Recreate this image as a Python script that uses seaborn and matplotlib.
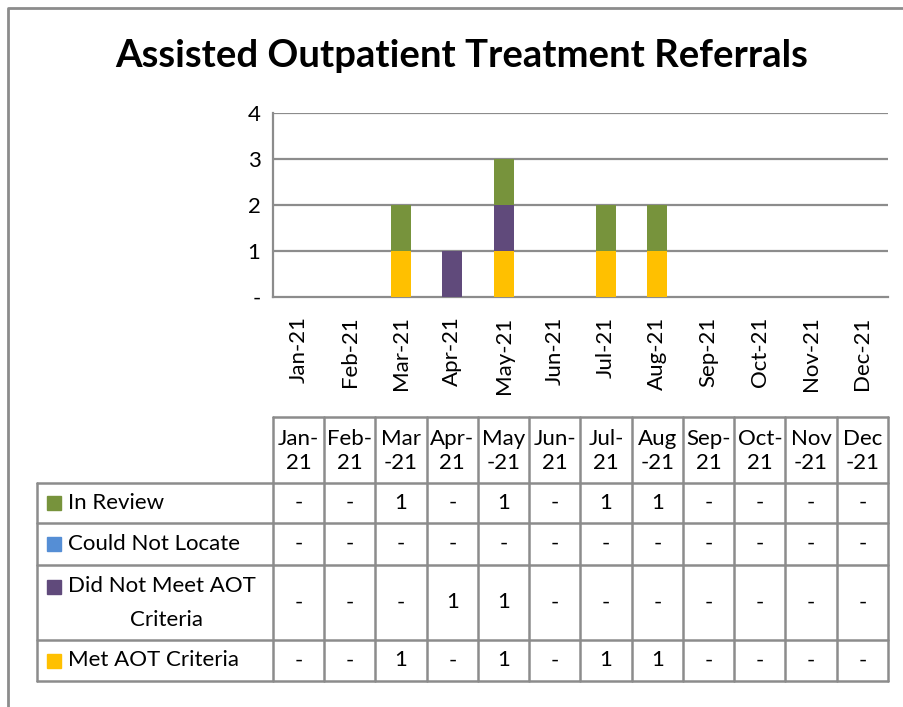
import matplotlib
matplotlib.use("Agg")
import matplotlib.pyplot as plt
import seaborn as sns
import pandas as pd
import numpy as np
from matplotlib.lines import Line2D
from matplotlib.patches import Rectangle

# ---- data ----
months = ["Jan-21", "Feb-21", "Mar-21", "Apr-21", "May-21", "Jun-21",
          "Jul-21", "Aug-21", "Sep-21", "Oct-21", "Nov-21", "Dec-21"]
header_labels = ["Jan-\n21", "Feb-\n21", "Mar\n-21", "Apr-\n21", "May\n-21", "Jun-\n21",
                 "Jul-\n21", "Aug\n-21", "Sep-\n21", "Oct-\n21", "Nov\n-21", "Dec\n-21"]
in_review = [0, 0, 1, 0, 1, 0, 1, 1, 0, 0, 0, 0]
could_not_locate = [0, 0, 0, 0, 0, 0, 0, 0, 0, 0, 0, 0]
did_not_meet = [0, 0, 0, 1, 1, 0, 0, 0, 0, 0, 0, 0]
met_aot = [0, 0, 1, 0, 1, 0, 1, 1, 0, 0, 0, 0]
series_names = ["In Review", "Could Not Locate", "Did Not Meet AOT\nCriteria", "Met AOT Criteria"]
series_colors = ["#77933C", "#558ED5", "#604A7B", "#FFC000"]
y_ticks = [0, 1, 2, 3, 4]
y_tick_labels = ["-", "1", "2", "3", "4"]
title = "Assisted Outpatient Treatment Referrals"

FONT = "Lato"
FS = 16
GRID = "#8C8C8C"

sns.set_theme(style="white")
plt.rcParams["font.family"] = [FONT, "DejaVu Sans"]

W, H = 904, 707
fig = plt.figure(figsize=(W / 100, H / 100), dpi=100)

# plot area in pixels
L, R, T, B = 273, 888, 113, 297
ax = fig.add_axes([L / W, 1 - B / H, (R - L) / W, (B - T) / H])

df = pd.DataFrame({"month": months, "In Review": in_review,
                   "Could Not Locate": could_not_locate,
                   "Did Not Meet": did_not_meet, "Met AOT": met_aot})
# stacked via cumulative overlays (top series drawn first)
stack_bottom_up = ["Met AOT", "Did Not Meet", "Could Not Locate", "In Review"]
stack_colors = ["#FFC000", "#604A7B", "#558ED5", "#77933C"]
cum = df[stack_bottom_up].cumsum(axis=1)
for i in range(len(stack_bottom_up) - 1, -1, -1):
    sns.barplot(x=df["month"], y=cum[stack_bottom_up[i]], color=stack_colors[i],
                width=0.39, saturation=1, ax=ax, zorder=3, linewidth=0)

ax.set_ylim(0, 4)
ax.set_xlim(-0.5, 11.5)
ax.set_yticks(y_ticks)
ax.set_yticklabels(y_tick_labels, fontsize=FS, color="black")
ax.set_xticks(range(len(months)))
ax.set_xticklabels(months, rotation=90, fontsize=FS, color="black")
ax.tick_params(axis="both", length=0)
ax.tick_params(axis="y", pad=9)
ax.tick_params(axis="x", pad=14)
ax.set_xlabel("")
ax.set_ylabel("")
for v in y_ticks[1:]:
    ax.axhline(v, color=GRID, lw=1.6, zorder=1)
for s in ["top", "right"]:
    ax.spines[s].set_visible(False)
for s in ["left", "bottom"]:
    ax.spines[s].set_color(GRID)
    ax.spines[s].set_linewidth(1.6)

# overlay axes in pixel coordinates for frame, title and data table
ov = fig.add_axes([0, 0, 1, 1], zorder=5)
ov.set_xlim(0, W)
ov.set_ylim(H, 0)
ov.axis("off")
ov.patch.set_alpha(0)

# outer chart border (left & top)
ov.add_line(Line2D([8, 8, W], [H, 8, 8], color="#8C8C8C", lw=2))

ov.text(462, 56, title, ha="center", va="center", fontsize=27.5,
        fontweight="bold", color="black")

# table geometry
cw = (R - L) / len(months)
col_x = [L + i * cw for i in range(len(months) + 1)]
hdr_top, hdr_bot = 417, 483
row_edges = [483, 523, 565, 640, 681]
label_left = 37
tc = "#8C8C8C"
lw = 1.8
# header grid
ov.add_line(Line2D([L, R], [hdr_top, hdr_top], color=tc, lw=lw))
for x in col_x:
    ov.add_line(Line2D([x, x], [hdr_top, row_edges[-1]], color=tc, lw=lw))
for y in row_edges:
    ov.add_line(Line2D([label_left, R], [y, y], color=tc, lw=lw))
ov.add_line(Line2D([label_left, label_left], [row_edges[0], row_edges[-1]], color=tc, lw=lw))

for i, lab in enumerate(header_labels):
    ov.text(col_x[i] + cw / 2, (hdr_top + hdr_bot) / 2 + 1, lab, ha="center", va="center",
            fontsize=FS, color="black", linespacing=1.2)

series_vals = [in_review, could_not_locate, did_not_meet, met_aot]
for r, (name, colr, vals) in enumerate(zip(series_names, series_colors, series_vals)):
    yc = (row_edges[r] + row_edges[r + 1]) / 2
    if "\n" in name:
        first, second = name.split("\n")
        y1 = yc - 16
        ov.add_patch(Rectangle((47, y1 - 7), 14, 14, color=colr))
        ov.text(68, y1, first, ha="left", va="center", fontsize=FS, color="black")
        ov.text(167, yc + 17, second, ha="center", va="center", fontsize=FS, color="black")
    else:
        ov.add_patch(Rectangle((47, yc - 7), 14, 14, color=colr))
        ov.text(68, yc, name, ha="left", va="center", fontsize=FS, color="black")
    for i, v in enumerate(vals):
        ov.text(col_x[i] + cw / 2, yc, "-" if v == 0 else str(v), ha="center",
                va="center", fontsize=FS, color="black")

fig.savefig("out.png", dpi=100, facecolor="white")
